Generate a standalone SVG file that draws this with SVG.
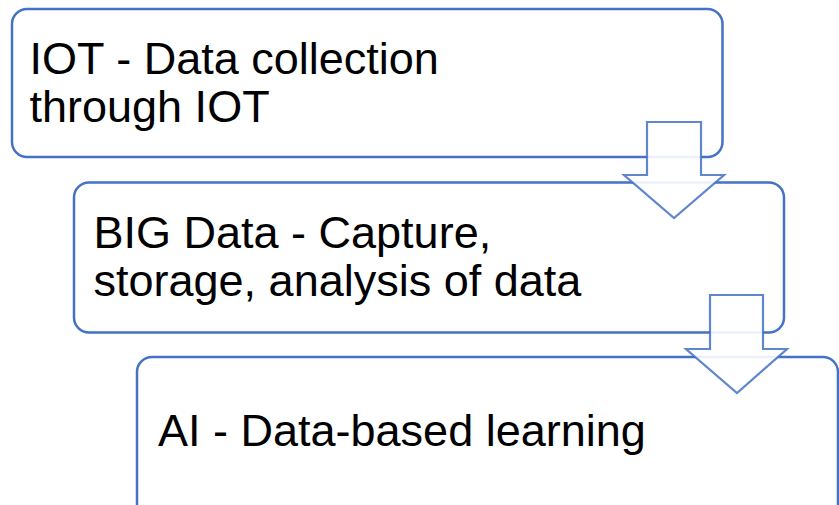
<svg xmlns="http://www.w3.org/2000/svg" width="839" height="505" viewBox="0 0 839 505">
<style>
.box{fill:#ffffff;stroke:#4472C4;stroke-width:2.5}
.arrow{fill:#ffffff;fill-opacity:0.9;stroke:#4472C4;stroke-opacity:0.85;stroke-width:2.2;stroke-linejoin:miter}
.t{font-family:"Liberation Sans",Arial,sans-serif;font-size:45px;fill:#000000}
</style>
<rect width="839" height="505" fill="#ffffff"/>
<g id="node-iot">
<rect class="box" x="12" y="9" width="710.5" height="148" rx="15" ry="15"/>
<text class="t" x="29.5" y="73.5">IOT - Data collection</text>
<text class="t" x="29.5" y="122">through IOT</text>
</g>
<g id="node-bigdata">
<rect class="box" x="74" y="182.5" width="710" height="150" rx="15" ry="15"/>
<text class="t" x="93.5" y="248">BIG Data - Capture,</text>
<text class="t" x="93.5" y="296">storage, analysis of data</text>
</g>
<g id="node-ai">
<rect class="box" x="137" y="357" width="701" height="200" rx="15" ry="15"/>
<text class="t" x="158" y="446">AI - Data-based learning</text>
</g>
<g id="connectors">
<polygon class="arrow" points="647,122 701,122 701,175 724,175 674,218 624,175 647,175"/>
<polygon class="arrow" points="710,295 763,295 763,349 787,349 737,393 686,349 710,349"/>
</g>
</svg>
